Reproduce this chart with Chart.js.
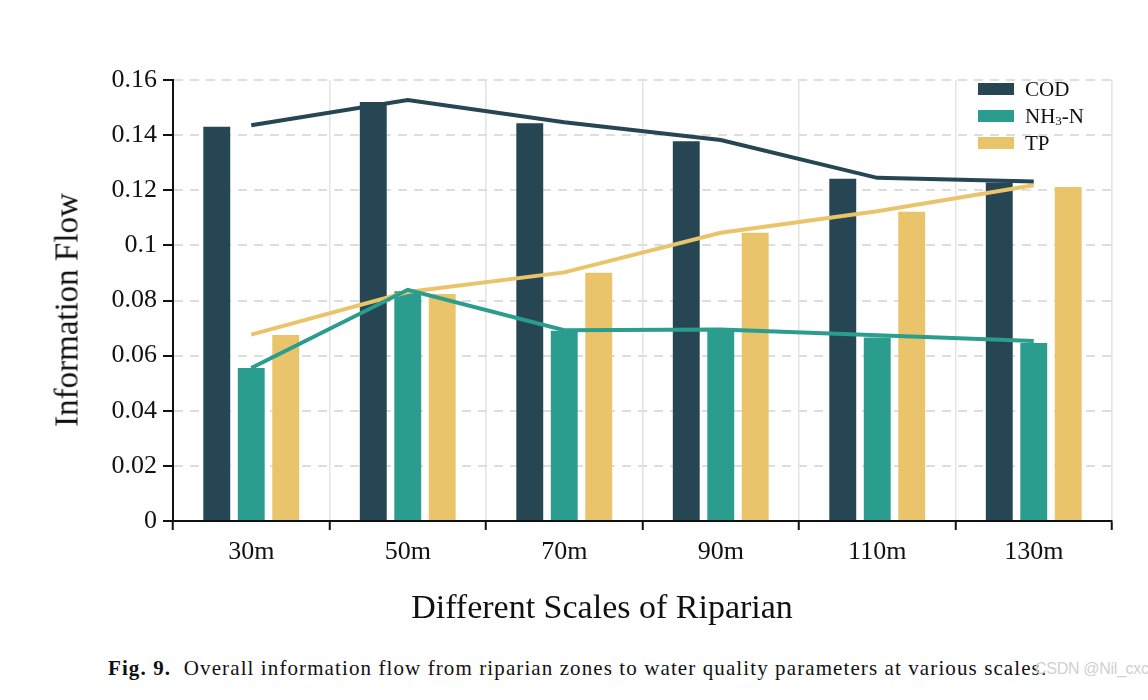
<!DOCTYPE html>
<html lang="en">
<head>
<meta charset="UTF-8">
<title>Information Flow</title>
<script src="https://cdn.jsdelivr.net/npm/chart.js"></script>
<style>
  html, body { margin: 0; padding: 0; background: #fff; }
  .wrap { position: relative; width: 1148px; height: 700px; overflow: hidden; font-family: 'Liberation Serif', serif; color: #111; }
  .chart-box { position: absolute; left: 0; top: 0; width: 1148px; height: 640px; }
  .ytitle { position: absolute; left: 67px; top: 310px; transform: translate(-50%, -50%) rotate(-90deg); font-size: 33px; white-space: nowrap; }
  .xtitle { position: absolute; left: 602px; top: 607px; transform: translate(-50%, -50%); font-size: 34px; white-space: nowrap; }
  .caption { position: absolute; left: 108px; top: 656px; font-size: 21px; letter-spacing: 1.1px; white-space: nowrap; }
  .mark { position: absolute; left: 1035px; top: 660px; font-family: 'Liberation Sans', sans-serif; font-size: 16px; letter-spacing: -0.3px; color: #d0d0d0; white-space: nowrap; }
</style>
</head>
<body>
<div class="wrap">
  <div class="chart-box"><canvas id="flowChart"></canvas></div>
  <div class="ytitle">Information Flow</div>
  <div class="xtitle">Different Scales of Riparian</div>
  <div class="caption"><b>Fig. 9.</b>&nbsp; Overall information flow from riparian zones to water quality parameters at various scales.</div>
  <div class="mark">CSDN @Nil_cxc</div>
</div>

<script>
    // data
    const categories = ['30m', '50m', '70m', '90m', '110m', '130m'];
    const codBars = [0.143, 0.152, 0.1443, 0.1378, 0.1242, 0.1228];
    const nh3Bars = [0.0555, 0.0834, 0.069, 0.0692, 0.0666, 0.0646];
    const tpBars = [0.0675, 0.0824, 0.0901, 0.1046, 0.1122, 0.1212];
    const codLine = [0.1436, 0.1527, 0.1447, 0.1382, 0.1245, 0.1232];
    const nh3Line = [0.0555, 0.0839, 0.0692, 0.0695, 0.0674, 0.0653];
    const tpLine = [0.0676, 0.0831, 0.0902, 0.1046, 0.1124, 0.1218];
    const yTicks = [0, 0.02, 0.04, 0.06, 0.08, 0.1, 0.12, 0.14, 0.16];

    const COD = '#264653';
    const NH3 = '#2a9d8f';
    const TP = '#e9c46a';

    // legend drawn inside the plot, top right
    const cornerLegend = {
        id: 'cornerLegend',
        afterDraw(chart) {
            const ctx = chart.ctx;
            const items = [
                { color: COD, parts: [['COD', 0]] },
                { color: NH3, parts: [['NH', 0], ['3', 1], ['-N', 0]] },
                { color: TP, parts: [['TP', 0]] }
            ];
            ctx.save();
            ctx.textBaseline = 'middle';
            items.forEach((it, i) => {
                const y = 89 + i * 27;
                ctx.fillStyle = it.color;
                ctx.fillRect(978, y - 6, 36, 12);
                let x = 1025;
                it.parts.forEach(([txt, sub]) => {
                    ctx.font = sub ? '13px "Liberation Serif", serif' : '21px "Liberation Serif", serif';
                    ctx.fillStyle = '#111';
                    ctx.fillText(txt, x, sub ? y + 6 : y + 1);
                    x += ctx.measureText(txt).width;
                });
            });
            ctx.restore();
        }
    };

    const ctx = document.getElementById('flowChart').getContext('2d');
    new Chart(ctx, {
        type: 'bar',
        data: {
            labels: categories,
            datasets: [
                { type: 'line', label: 'COD line', data: codLine, borderColor: COD, borderWidth: 4, pointRadius: 0, tension: 0, order: 0 },
                { type: 'line', label: 'NH3 line', data: nh3Line, borderColor: NH3, borderWidth: 4, pointRadius: 0, tension: 0, order: 0 },
                { type: 'line', label: 'TP line', data: tpLine, borderColor: TP, borderWidth: 4, pointRadius: 0, tension: 0, order: 0 },
                { label: 'COD', data: codBars, backgroundColor: COD, order: 1 },
                { label: 'NH3-N', data: nh3Bars, backgroundColor: NH3, order: 1 },
                { label: 'TP', data: tpBars, backgroundColor: TP, order: 1 }
            ]
        },
        options: {
            responsive: true,
            maintainAspectRatio: false,
            animation: false,
            layout: { padding: { left: 0, top: 80, right: 36, bottom: 0 } },
            datasets: {
                bar: { categoryPercentage: 0.661, barPercentage: 0.78 }
            },
            plugins: {
                legend: { display: false },
                tooltip: { enabled: false }
            },
            scales: {
                x: {
                    afterFit: (scale) => { scale.height = 119; },
                    grid: { offset: true, color: '#e4e4e4', lineWidth: 1.5, tickColor: '#111', tickWidth: 2, tickLength: 9 },
                    border: { color: '#111', width: 2 },
                    ticks: { color: '#111', padding: 7, font: { family: 'Liberation Serif', size: 26 } }
                },
                y: {
                    min: 0,
                    max: 0.16,
                    afterFit: (scale) => { scale.width = 173; },
                    afterBuildTicks: (scale) => { scale.ticks = yTicks.map(v => ({ value: v })); },
                    grid: { color: '#dedede', lineWidth: 2, tickColor: '#111', tickWidth: 2, tickLength: 10, tickBorderDash: [] },
                    border: { color: '#111', width: 2, dash: [9, 7] },
                    ticks: {
                        color: '#111', padding: 6,
                        font: { family: 'Liberation Serif', size: 26 },
                        callback: (v) => String(Number(v.toFixed(2)))
                    }
                }
            }
        },
        plugins: [cornerLegend]
    });
</script>
</body>
</html>
